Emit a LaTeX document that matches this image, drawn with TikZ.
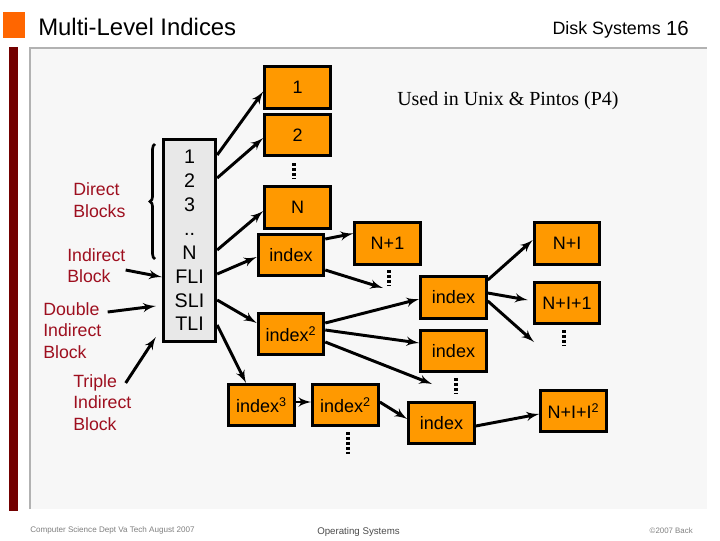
\documentclass[tikz,border=0pt]{standalone}
\usepackage{fontspec}
\usepackage{tikz}
\setmainfont{Liberation Sans}
\newfontfamily\serifface{Liberation Serif}
\usetikzlibrary{arrows}
\usetikzlibrary{decorations.pathreplacing}
\definecolor{morange}{rgb}{1, 0.6, 0}
\definecolor{mtab}{rgb}{1, 0.4, 0}
\definecolor{mred}{rgb}{0.62, 0.06, 0.12}
\definecolor{mbar}{rgb}{0.45, 0, 0}
\definecolor{mpanel}{rgb}{0.97, 0.97, 0.97}
\definecolor{mrule}{rgb}{0.7, 0.7, 0.7}
\definecolor{mfoot}{rgb}{0.5, 0.5, 0.5}
\tikzset{
  block/.style={draw=black, line width=2.1pt, fill=morange, minimum width=1.64cm, minimum height=1.03cm, inner sep=0pt, font=\fontsize{12.8}{15}\selectfont},
  conn/.style={-latex', line width=2.1pt},
  lbl/.style={anchor=west, align=left, inner sep=0pt, text=mred, font=\fontsize{12.6}{15.2}\selectfont},
  vdots/.style={line width=2.8pt, dash pattern=on 2.1pt off 1.4pt},
  foot/.style={inner sep=0pt, text=mfoot}
}

\begin{document}
\begin{tikzpicture}[x=0.025cm, y=-0.025cm]
      \useasboundingbox (0, 0) rectangle (720, 540);
      \fill [white] (0, 0) rectangle (720, 540);

      % slide frame
      \fill [mtab] (3, 12) rectangle (25, 38);
      \fill [mbar] (9, 47) rectangle (18, 511);
      \fill [mpanel] (30, 48) rectangle (707, 509);
      \draw [mrule, line width=1.4pt] (30, 509) -- (30, 48) -- (707, 48);

      \node [anchor=west, inner sep=0pt, font=\fontsize{17}{20}\selectfont] (title) at (38, 27) {Multi-Level Indices};
      \node [anchor=east, inner sep=0pt, font=\fontsize{12.7}{14}\selectfont] (topic) at (661, 30) {Disk Systems};
      \node [anchor=east, inner sep=0pt, font=\fontsize{14.5}{16}\selectfont] (page) at (689, 28) {16};
      \node [anchor=west, inner sep=0pt, font=\serifface\fontsize{14.2}{16}\selectfont] (used) at (397, 101) {Used in Unix \& Pintos (P4)};
      \node [foot, anchor=west, font=\fontsize{5.75}{7}\selectfont] (footl) at (30, 530) {Computer Science Dept Va Tech August 2007};
      \node [foot, font=\fontsize{6.9}{9}\selectfont, text=black!70] (footc) at (358.5, 531.5) {Operating Systems};
      \node [foot, anchor=east, font=\fontsize{5.6}{7}\selectfont] (footr) at (693, 531) {\textcopyright 2007 Back};

      % inode
      \node [draw=black, line width=2.1pt, fill=black!9, minimum width=1.31cm, minimum height=5.05cm, inner sep=0pt, align=center, font=\fontsize{14}{17}\selectfont] (inode) at (189.5, 240.5) {1\\2\\3\\..\\N\\FLI\\SLI\\TLI};

      \node [lbl] (direct) at (73, 200) {Direct\\Blocks};
      \node [lbl] (indirect) at (67, 265.5) {Indirect\\Block};
      \node [lbl] (double) at (43, 330.5) {Double\\Indirect\\Block};
      \node [lbl] (triple) at (73, 402.5) {Triple\\Indirect\\Block};

      % data and index blocks
      \node [block] (b1) at (297.5, 87.5) {1};
      \node [block] (b2) at (297.5, 135) {2};
      \node [block] (bn) at (297.5, 207.5) {N};
      \node [block] (ifli) at (291, 255) {index};
      \node [block] (bn1) at (387.5, 243.5) {N+1};
      \node [block] (isli) at (291, 334) {index\textsuperscript{2}};
      \node [block] (ione) at (453.5, 297.5) {index};
      \node [block] (itwo) at (453.5, 351) {index};
      \node [block] (bni) at (567, 243.5) {N+I};
      \node [block] (bni1) at (567, 303) {N+I+1};
      \node [block] (itli) at (261.5, 405) {index\textsuperscript{3}};
      \node [block] (itli2) at (345.5, 405) {index\textsuperscript{2}};
      \node [block] (ilast) at (441.5, 423) {index};
      \node [block] (bnii) at (573.5, 411) {N+I+I\textsuperscript{2}};

      % free ends
      \coordinate (endfli) at (383, 288);
      \coordinate (endsli) at (432, 384);
      \coordinate (endone) at (534, 342);
      \coordinate (bracebot) at (155, 259);
      \coordinate (bracetop) at (155, 144);

      \draw [line width=1.9pt, decorate, decoration={brace, amplitude=3.5pt}] (bracebot) -- (bracetop);

      \draw [conn] ([shift={(0, -85.5)}]inode.east) -- ([shift={(0, 4)}]b1.west);
      \draw [conn] ([shift={(0, -62.5)}]inode.east) -- ([shift={(0, 3)}]b2.west);
      \draw [conn] ([shift={(0, 9.5)}]inode.east) -- ([shift={(0, 3.5)}]bn.west);
      \draw [conn] ([shift={(0, 33.5)}]inode.east) -- ([shift={(0, 2)}]ifli.west);
      \draw [conn] ([shift={(0, 59.5)}]inode.east) -- ([shift={(0, -11)}]isli.west);
      \draw [conn] ([shift={(0, 84.5)}]inode.east) -- ([shift={(-15.5, 0)}]itli.north);

      \draw [conn] ([shift={(0, -16)}]ifli.east) -- ([shift={(0, -10)}]bn1.west);
      \draw [conn] ([shift={(0, 15)}]ifli.east) -- (endfli);
      \draw [conn] ([shift={(0, -11)}]isli.east) -- ([shift={(0, 1.5)}]ione.west);
      \draw [conn] ([shift={(0, -4)}]isli.east) -- ([shift={(0, -8)}]itwo.west);
      \draw [conn] ([shift={(0, 8)}]isli.east) -- (endsli);
      \draw [conn] ([shift={(0, -3)}]itli.east) -- ([shift={(0, -3)}]itli2.west);
      \draw [conn] ([shift={(0, -3)}]itli2.east) -- ([shift={(0, -4)}]ilast.west);
      \draw [conn] ([shift={(0, 3)}]ilast.east) -- ([shift={(0, 3)}]bnii.west);
      \draw [conn] ([shift={(0, -17.5)}]ione.east) -- ([shift={(0, -3.5)}]bni.west);
      \draw [conn] ([shift={(0, -4.5)}]ione.east) -- ([shift={(-5, -3)}]bni1.west);
      \draw [conn] ([shift={(0, 3.5)}]ione.east) -- (endone);

      \draw [conn] ([shift={(0, 4.5)}]indirect.east) -- ([shift={(0, 36.5)}]inode.west);
      \draw [conn] ([shift={(6, -18.5)}]double.east) -- ([shift={(-6, 65.5)}]inode.west);
      \draw [conn] ([shift={(-6, -19.5)}]triple.east) -- ([shift={(-6, 96.5)}]inode.west);

      % elided blocks
      \foreach \x/\ya/\yb in {294/163/178, 389/270/286, 564/330/346, 456/378/394, 348/432/454}
        \draw [vdots] (\x, \ya) -- (\x, \yb);
    \end{tikzpicture}
\end{document}
